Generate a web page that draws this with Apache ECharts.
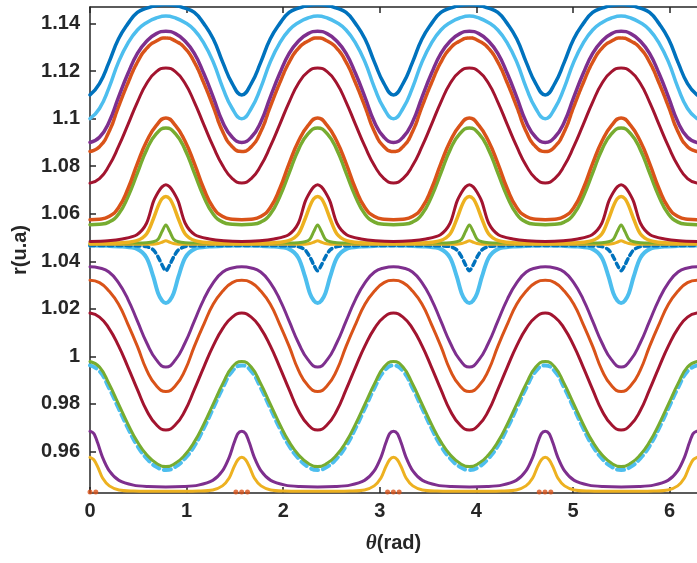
<!DOCTYPE html>
<html>
<head>
<meta charset="utf-8">
<script src="https://cdn.jsdelivr.net/npm/echarts@6/dist/echarts.min.js"></script>
<style>html,body{margin:0;padding:0;background:#fff;}#c{width:697px;height:563px;}</style>
</head>
<body>
<div id="c"></div>
<script>
// tick labels
const xTicks = [0, 1, 2, 3, 4, 5, 6];
const yTicks = [0.96, 0.98, 1.0, 1.02, 1.04, 1.06, 1.08, 1.1, 1.12, 1.14];

// theta samples (rad): uniform, step pi/32
const thA = [0, 0.0982, 0.1963, 0.2945, 0.3927, 0.4909, 0.5890, 0.6872, 0.7854, 0.8836, 0.9817, 1.0799, 1.1781, 1.2763, 1.3744, 1.4726,
 1.5708, 1.6690, 1.7671, 1.8653, 1.9635, 2.0617, 2.1598, 2.2580, 2.3562, 2.4544, 2.5525, 2.6507, 2.7489, 2.8471, 2.9452, 3.0434,
 3.1416, 3.2398, 3.3379, 3.4361, 3.5343, 3.6325, 3.7306, 3.8288, 3.9270, 4.0252, 4.1233, 4.2215, 4.3197, 4.4179, 4.5160, 4.6142,
 4.7124, 4.8106, 4.9087, 5.0069, 5.1051, 5.2033, 5.3014, 5.3996, 5.4978, 5.5960, 5.6941, 5.7923, 5.8905, 5.9887, 6.0868, 6.1850,
 6.2832];
// theta samples (rad): dense around pi/4 + n*pi/2
const thU = [0,
 0.1854, 0.3354, 0.4854, 0.5854, 0.6554, 0.7054, 0.7454, 0.7854, 0.8254, 0.8654, 0.9154, 0.9854, 1.0854, 1.2354, 1.3854,
 1.5708,
 1.7562, 1.9062, 2.0562, 2.1562, 2.2262, 2.2762, 2.3162, 2.3562, 2.3962, 2.4362, 2.4862, 2.5562, 2.6562, 2.8062, 2.9562,
 3.1416,
 3.3270, 3.4770, 3.6270, 3.7270, 3.7970, 3.8470, 3.8870, 3.9270, 3.9670, 4.0070, 4.0570, 4.1270, 4.2270, 4.3770, 4.5270,
 4.7124,
 4.8978, 5.0478, 5.1978, 5.2978, 5.3678, 5.4178, 5.4578, 5.4978, 5.5378, 5.5778, 5.6278, 5.6978, 5.7978, 5.9478, 6.0978,
 6.2832];
// theta samples (rad): dense around n*pi/2
const thL = [0, 0.04, 0.08, 0.13, 0.2, 0.3, 0.45, 0.6,
 0.7854,
 0.9708, 1.1208, 1.2708, 1.3708, 1.4408, 1.4908, 1.5308, 1.5708, 1.6108, 1.6508, 1.7008, 1.7708, 1.8708, 2.0208, 2.1708,
 2.3562,
 2.5416, 2.6916, 2.8416, 2.9416, 3.0116, 3.0616, 3.1016, 3.1416, 3.1816, 3.2216, 3.2716, 3.3416, 3.4416, 3.5916, 3.7416,
 3.9270,
 4.1124, 4.2624, 4.4124, 4.5124, 4.5824, 4.6324, 4.6724, 4.7124, 4.7524, 4.7924, 4.8424, 4.9124, 5.0124, 5.1624, 5.3124,
 5.4978,
 5.6832, 5.8332, 5.9832, 6.0832, 6.1532, 6.2032, 6.2432, 6.2832];

// ---- upper family, smooth curves (on thA) ----
const rBlueTop = [1.110,
 1.1148, 1.1237, 1.1335, 1.140, 1.1447, 1.1465, 1.1476, 1.1479, 1.1476, 1.1465, 1.1447, 1.140, 1.1335, 1.1237, 1.1148, 1.110,
 1.1148, 1.1237, 1.1335, 1.140, 1.1447, 1.1465, 1.1476, 1.1479, 1.1476, 1.1465, 1.1447, 1.140, 1.1335, 1.1237, 1.1148, 1.110,
 1.1148, 1.1237, 1.1335, 1.140, 1.1447, 1.1465, 1.1476, 1.1479, 1.1476, 1.1465, 1.1447, 1.140, 1.1335, 1.1237, 1.1148, 1.110,
 1.1148, 1.1237, 1.1335, 1.140, 1.1447, 1.1465, 1.1476, 1.1479, 1.1476, 1.1465, 1.1447, 1.140, 1.1335, 1.1237, 1.1148, 1.110];
const rCyanTop = [1.100,
 1.1043, 1.113, 1.1238, 1.1318, 1.1373, 1.1405, 1.1424, 1.1432, 1.1424, 1.1405, 1.1373, 1.1318, 1.1238, 1.113, 1.1043, 1.100,
 1.1043, 1.113, 1.1238, 1.1318, 1.1373, 1.1405, 1.1424, 1.1432, 1.1424, 1.1405, 1.1373, 1.1318, 1.1238, 1.113, 1.1043, 1.100,
 1.1043, 1.113, 1.1238, 1.1318, 1.1373, 1.1405, 1.1424, 1.1432, 1.1424, 1.1405, 1.1373, 1.1318, 1.1238, 1.113, 1.1043, 1.100,
 1.1043, 1.113, 1.1238, 1.1318, 1.1373, 1.1405, 1.1424, 1.1432, 1.1424, 1.1405, 1.1373, 1.1318, 1.1238, 1.113, 1.1043, 1.100];
const rPurpleTop = [1.090,
 1.0922, 1.0985, 1.109, 1.119, 1.1275, 1.1327, 1.1358, 1.1368, 1.1358, 1.1327, 1.1275, 1.119, 1.109, 1.0985, 1.0922, 1.090,
 1.0922, 1.0985, 1.109, 1.119, 1.1275, 1.1327, 1.1358, 1.1368, 1.1358, 1.1327, 1.1275, 1.119, 1.109, 1.0985, 1.0922, 1.090,
 1.0922, 1.0985, 1.109, 1.119, 1.1275, 1.1327, 1.1358, 1.1368, 1.1358, 1.1327, 1.1275, 1.119, 1.109, 1.0985, 1.0922, 1.090,
 1.0922, 1.0985, 1.109, 1.119, 1.1275, 1.1327, 1.1358, 1.1368, 1.1358, 1.1327, 1.1275, 1.119, 1.109, 1.0985, 1.0922, 1.090];
const rOrangeTop = [1.0862,
 1.0882, 1.0945, 1.105, 1.115, 1.1238, 1.1297, 1.1327, 1.134, 1.1327, 1.1297, 1.1238, 1.115, 1.105, 1.0945, 1.0882, 1.0862,
 1.0882, 1.0945, 1.105, 1.115, 1.1238, 1.1297, 1.1327, 1.134, 1.1327, 1.1297, 1.1238, 1.115, 1.105, 1.0945, 1.0882, 1.0862,
 1.0882, 1.0945, 1.105, 1.115, 1.1238, 1.1297, 1.1327, 1.134, 1.1327, 1.1297, 1.1238, 1.115, 1.105, 1.0945, 1.0882, 1.0862,
 1.0882, 1.0945, 1.105, 1.115, 1.1238, 1.1297, 1.1327, 1.134, 1.1327, 1.1297, 1.1238, 1.115, 1.105, 1.0945, 1.0882, 1.0862];
const rRedTop = [1.0729,
 1.0748, 1.0802, 1.0882, 1.0975, 1.107, 1.115, 1.1198, 1.1213, 1.1198, 1.115, 1.107, 1.0975, 1.0882, 1.0802, 1.0748, 1.0729,
 1.0748, 1.0802, 1.0882, 1.0975, 1.107, 1.115, 1.1198, 1.1213, 1.1198, 1.115, 1.107, 1.0975, 1.0882, 1.0802, 1.0748, 1.0729,
 1.0748, 1.0802, 1.0882, 1.0975, 1.107, 1.115, 1.1198, 1.1213, 1.1198, 1.115, 1.107, 1.0975, 1.0882, 1.0802, 1.0748, 1.0729,
 1.0748, 1.0802, 1.0882, 1.0975, 1.107, 1.115, 1.1198, 1.1213, 1.1198, 1.115, 1.107, 1.0975, 1.0882, 1.0802, 1.0748, 1.0729];
const rOrangeMid = [1.0575,
 1.0577, 1.0588, 1.0625, 1.0705, 1.0812, 1.0907, 1.0972, 1.1003, 1.0972, 1.0907, 1.0812, 1.0705, 1.0625, 1.0588, 1.0577, 1.0575,
 1.0577, 1.0588, 1.0625, 1.0705, 1.0812, 1.0907, 1.0972, 1.1003, 1.0972, 1.0907, 1.0812, 1.0705, 1.0625, 1.0588, 1.0577, 1.0575,
 1.0577, 1.0588, 1.0625, 1.0705, 1.0812, 1.0907, 1.0972, 1.1003, 1.0972, 1.0907, 1.0812, 1.0705, 1.0625, 1.0588, 1.0577, 1.0575,
 1.0577, 1.0588, 1.0625, 1.0705, 1.0812, 1.0907, 1.0972, 1.1003, 1.0972, 1.0907, 1.0812, 1.0705, 1.0625, 1.0588, 1.0577, 1.0575];
const rGreenMid = [1.0554,
 1.0556, 1.0565, 1.0598, 1.0672, 1.0772, 1.0872, 1.0937, 1.0961, 1.0937, 1.0872, 1.0772, 1.0672, 1.0598, 1.0565, 1.0556, 1.0554,
 1.0556, 1.0565, 1.0598, 1.0672, 1.0772, 1.0872, 1.0937, 1.0961, 1.0937, 1.0872, 1.0772, 1.0672, 1.0598, 1.0565, 1.0556, 1.0554,
 1.0556, 1.0565, 1.0598, 1.0672, 1.0772, 1.0872, 1.0937, 1.0961, 1.0937, 1.0872, 1.0772, 1.0672, 1.0598, 1.0565, 1.0556, 1.0554,
 1.0556, 1.0565, 1.0598, 1.0672, 1.0772, 1.0872, 1.0937, 1.0961, 1.0937, 1.0872, 1.0772, 1.0672, 1.0598, 1.0565, 1.0556, 1.0554];

// ---- near-separatrix spikes (on thU) ----
const rRedSpike = [1.0483,
 1.0486, 1.0494, 1.0512, 1.056, 1.065, 1.069, 1.0713, 1.0722, 1.0713, 1.069, 1.065, 1.056, 1.0512, 1.0494, 1.0486, 1.0483,
 1.0486, 1.0494, 1.0512, 1.056, 1.065, 1.069, 1.0713, 1.0722, 1.0713, 1.069, 1.065, 1.056, 1.0512, 1.0494, 1.0486, 1.0483,
 1.0486, 1.0494, 1.0512, 1.056, 1.065, 1.069, 1.0713, 1.0722, 1.0713, 1.069, 1.065, 1.056, 1.0512, 1.0494, 1.0486, 1.0483,
 1.0486, 1.0494, 1.0512, 1.056, 1.065, 1.069, 1.0713, 1.0722, 1.0713, 1.069, 1.065, 1.056, 1.0512, 1.0494, 1.0486, 1.0483];
const rYellowSpike = [1.0475,
 1.0476, 1.0478, 1.0487, 1.0515, 1.0578, 1.0632, 1.0663, 1.0673, 1.0663, 1.0632, 1.0578, 1.0515, 1.0487, 1.0478, 1.0476, 1.0475,
 1.0476, 1.0478, 1.0487, 1.0515, 1.0578, 1.0632, 1.0663, 1.0673, 1.0663, 1.0632, 1.0578, 1.0515, 1.0487, 1.0478, 1.0476, 1.0475,
 1.0476, 1.0478, 1.0487, 1.0515, 1.0578, 1.0632, 1.0663, 1.0673, 1.0663, 1.0632, 1.0578, 1.0515, 1.0487, 1.0478, 1.0476, 1.0475,
 1.0476, 1.0478, 1.0487, 1.0515, 1.0578, 1.0632, 1.0663, 1.0673, 1.0663, 1.0632, 1.0578, 1.0515, 1.0487, 1.0478, 1.0476, 1.0475];
const rGreenSpike = [1.0477,
 1.0477, 1.0477, 1.0477, 1.0478, 1.0482, 1.0493, 1.0525, 1.0553, 1.0525, 1.0493, 1.0482, 1.0478, 1.0477, 1.0477, 1.0477, 1.0477,
 1.0477, 1.0477, 1.0477, 1.0478, 1.0482, 1.0493, 1.0525, 1.0553, 1.0525, 1.0493, 1.0482, 1.0478, 1.0477, 1.0477, 1.0477, 1.0477,
 1.0477, 1.0477, 1.0477, 1.0478, 1.0482, 1.0493, 1.0525, 1.0553, 1.0525, 1.0493, 1.0482, 1.0478, 1.0477, 1.0477, 1.0477, 1.0477,
 1.0477, 1.0477, 1.0477, 1.0478, 1.0482, 1.0493, 1.0525, 1.0553, 1.0525, 1.0493, 1.0482, 1.0478, 1.0477, 1.0477, 1.0477, 1.0477];
const rYellowSep = [1.0472,
 1.0472, 1.0472, 1.0472, 1.0472, 1.0472, 1.0475, 1.048, 1.0486, 1.048, 1.0475, 1.0472, 1.0472, 1.0472, 1.0472, 1.0472, 1.0472,
 1.0472, 1.0472, 1.0472, 1.0472, 1.0472, 1.0475, 1.048, 1.0486, 1.048, 1.0475, 1.0472, 1.0472, 1.0472, 1.0472, 1.0472, 1.0472,
 1.0472, 1.0472, 1.0472, 1.0472, 1.0472, 1.0475, 1.048, 1.0486, 1.048, 1.0475, 1.0472, 1.0472, 1.0472, 1.0472, 1.0472, 1.0472,
 1.0472, 1.0472, 1.0472, 1.0472, 1.0472, 1.0475, 1.048, 1.0486, 1.048, 1.0475, 1.0472, 1.0472, 1.0472, 1.0472, 1.0472, 1.0472];
const rCyanDip = [1.0466,
 1.0465, 1.0462, 1.0452, 1.0415, 1.0335, 1.0265, 1.0235, 1.0224, 1.0235, 1.0265, 1.0335, 1.0415, 1.0452, 1.0462, 1.0465, 1.0466,
 1.0465, 1.0462, 1.0452, 1.0415, 1.0335, 1.0265, 1.0235, 1.0224, 1.0235, 1.0265, 1.0335, 1.0415, 1.0452, 1.0462, 1.0465, 1.0466,
 1.0465, 1.0462, 1.0452, 1.0415, 1.0335, 1.0265, 1.0235, 1.0224, 1.0235, 1.0265, 1.0335, 1.0415, 1.0452, 1.0462, 1.0465, 1.0466,
 1.0465, 1.0462, 1.0452, 1.0415, 1.0335, 1.0265, 1.0235, 1.0224, 1.0235, 1.0265, 1.0335, 1.0415, 1.0452, 1.0462, 1.0465, 1.0466];
const rBlueDip = [1.0466,
 1.0466, 1.0466, 1.0465, 1.0462, 1.0448, 1.0418, 1.0385, 1.036, 1.0385, 1.0418, 1.0448, 1.0462, 1.0465, 1.0466, 1.0466, 1.0466,
 1.0466, 1.0466, 1.0465, 1.0462, 1.0448, 1.0418, 1.0385, 1.036, 1.0385, 1.0418, 1.0448, 1.0462, 1.0465, 1.0466, 1.0466, 1.0466,
 1.0466, 1.0466, 1.0465, 1.0462, 1.0448, 1.0418, 1.0385, 1.036, 1.0385, 1.0418, 1.0448, 1.0462, 1.0465, 1.0466, 1.0466, 1.0466,
 1.0466, 1.0466, 1.0465, 1.0462, 1.0448, 1.0418, 1.0385, 1.036, 1.0385, 1.0418, 1.0448, 1.0462, 1.0465, 1.0466, 1.0466, 1.0466];

// ---- lower family, smooth curves (on thA) ----
const rPurpleLow = [1.0377,
 1.0372, 1.0355, 1.031, 1.024, 1.0148, 1.0055, 0.9985, 0.9955, 0.9985, 1.0055, 1.0148, 1.024, 1.031, 1.0355, 1.0372, 1.0377,
 1.0372, 1.0355, 1.031, 1.024, 1.0148, 1.0055, 0.9985, 0.9955, 0.9985, 1.0055, 1.0148, 1.024, 1.031, 1.0355, 1.0372, 1.0377,
 1.0372, 1.0355, 1.031, 1.024, 1.0148, 1.0055, 0.9985, 0.9955, 0.9985, 1.0055, 1.0148, 1.024, 1.031, 1.0355, 1.0372, 1.0377,
 1.0372, 1.0355, 1.031, 1.024, 1.0148, 1.0055, 0.9985, 0.9955, 0.9985, 1.0055, 1.0148, 1.024, 1.031, 1.0355, 1.0372, 1.0377];
const rOrangeLow = [1.032,
 1.031, 1.0275, 1.022, 1.0135, 1.0042, 0.994, 0.9876, 0.9852, 0.9876, 0.994, 1.0042, 1.0135, 1.022, 1.0275, 1.031, 1.032,
 1.031, 1.0275, 1.022, 1.0135, 1.0042, 0.994, 0.9876, 0.9852, 0.9876, 0.994, 1.0042, 1.0135, 1.022, 1.0275, 1.031, 1.032,
 1.031, 1.0275, 1.022, 1.0135, 1.0042, 0.994, 0.9876, 0.9852, 0.9876, 0.994, 1.0042, 1.0135, 1.022, 1.0275, 1.031, 1.032,
 1.031, 1.0275, 1.022, 1.0135, 1.0042, 0.994, 0.9876, 0.9852, 0.9876, 0.994, 1.0042, 1.0135, 1.022, 1.0275, 1.031, 1.032];
const rRedLow = [1.0182,
 1.0165, 1.0118, 1.0045, 0.9955, 0.986, 0.977, 0.9712, 0.969, 0.9712, 0.977, 0.986, 0.9955, 1.0045, 1.0118, 1.0165, 1.0182,
 1.0165, 1.0118, 1.0045, 0.9955, 0.986, 0.977, 0.9712, 0.969, 0.9712, 0.977, 0.986, 0.9955, 1.0045, 1.0118, 1.0165, 1.0182,
 1.0165, 1.0118, 1.0045, 0.9955, 0.986, 0.977, 0.9712, 0.969, 0.9712, 0.977, 0.986, 0.9955, 1.0045, 1.0118, 1.0165, 1.0182,
 1.0165, 1.0118, 1.0045, 0.9955, 0.986, 0.977, 0.9712, 0.969, 0.9712, 0.977, 0.986, 0.9955, 1.0045, 1.0118, 1.0165, 1.0182];
const rGreenLow = [0.9978,
 0.9955, 0.9885, 0.980, 0.9715, 0.964, 0.9585, 0.955, 0.9536, 0.955, 0.9585, 0.964, 0.9715, 0.980, 0.9885, 0.9955, 0.9978,
 0.9955, 0.9885, 0.980, 0.9715, 0.964, 0.9585, 0.955, 0.9536, 0.955, 0.9585, 0.964, 0.9715, 0.980, 0.9885, 0.9955, 0.9978,
 0.9955, 0.9885, 0.980, 0.9715, 0.964, 0.9585, 0.955, 0.9536, 0.955, 0.9585, 0.964, 0.9715, 0.980, 0.9885, 0.9955, 0.9978,
 0.9955, 0.9885, 0.980, 0.9715, 0.964, 0.9585, 0.955, 0.9536, 0.955, 0.9585, 0.964, 0.9715, 0.980, 0.9885, 0.9955, 0.9978];
const rCyanLow = [0.9962,
 0.9938, 0.9868, 0.9783, 0.9698, 0.9623, 0.957, 0.9535, 0.9522, 0.9535, 0.957, 0.9623, 0.9698, 0.9783, 0.9868, 0.9938, 0.9962,
 0.9938, 0.9868, 0.9783, 0.9698, 0.9623, 0.957, 0.9535, 0.9522, 0.9535, 0.957, 0.9623, 0.9698, 0.9783, 0.9868, 0.9938, 0.9962,
 0.9938, 0.9868, 0.9783, 0.9698, 0.9623, 0.957, 0.9535, 0.9522, 0.9535, 0.957, 0.9623, 0.9698, 0.9783, 0.9868, 0.9938, 0.9962,
 0.9938, 0.9868, 0.9783, 0.9698, 0.9623, 0.957, 0.9535, 0.9522, 0.9535, 0.957, 0.9623, 0.9698, 0.9783, 0.9868, 0.9938, 0.9962];

// ---- bottom family (on thL) ----
const rPurpleBot = [0.9685, 0.9675, 0.9635, 0.9575, 0.9518, 0.9478, 0.9458, 0.9452, 0.945,
 0.9452, 0.9458, 0.9478, 0.9518, 0.9575, 0.9635, 0.9675, 0.9685, 0.9675, 0.9635, 0.9575, 0.9518, 0.9478, 0.9458, 0.9452, 0.945,
 0.9452, 0.9458, 0.9478, 0.9518, 0.9575, 0.9635, 0.9675, 0.9685, 0.9675, 0.9635, 0.9575, 0.9518, 0.9478, 0.9458, 0.9452, 0.945,
 0.9452, 0.9458, 0.9478, 0.9518, 0.9575, 0.9635, 0.9675, 0.9685, 0.9675, 0.9635, 0.9575, 0.9518, 0.9478, 0.9458, 0.9452, 0.945,
 0.9452, 0.9458, 0.9478, 0.9518, 0.9575, 0.9635, 0.9675, 0.9685];
const rYellowBot = [0.9575, 0.9565, 0.9535, 0.9488, 0.9455, 0.9438, 0.9433, 0.9432, 0.9432,
 0.9432, 0.9433, 0.9438, 0.9455, 0.9488, 0.9535, 0.9565, 0.9575, 0.9565, 0.9535, 0.9488, 0.9455, 0.9438, 0.9433, 0.9432, 0.9432,
 0.9432, 0.9433, 0.9438, 0.9455, 0.9488, 0.9535, 0.9565, 0.9575, 0.9565, 0.9535, 0.9488, 0.9455, 0.9438, 0.9433, 0.9432, 0.9432,
 0.9432, 0.9433, 0.9438, 0.9455, 0.9488, 0.9535, 0.9565, 0.9575, 0.9565, 0.9535, 0.9488, 0.9455, 0.9438, 0.9433, 0.9432, 0.9432,
 0.9432, 0.9433, 0.9438, 0.9455, 0.9488, 0.9535, 0.9565, 0.9575];
const thOrangeDots = [0, 0.06, 1.51, 1.57, 1.63, 3.08, 3.14, 3.20, 4.65, 4.71, 4.77];
const rOrangeDots = [0.9429, 0.9429, 0.9429, 0.9429, 0.9429, 0.9429, 0.9429, 0.9429, 0.9429, 0.9429, 0.9429];

const C = {blue:'#0072BD', orange:'#D95319', yellow:'#EDB120', purple:'#7E2F8E', green:'#77AC30', cyan:'#4DBEEE', red:'#A2142F'};

function pts(th, r) { return th.map((t, i) => [t, r[i]]); }
function line(th, r, color, width, dash, sm) {
  return { type: 'line', data: pts(th, r), showSymbol: false, smooth: sm === undefined ? 0.5 : sm,
    clip: true, silent: true, animation: false,
    lineStyle: { color: color, width: width, type: dash || 'solid', cap: 'round', join: 'round' } };
}

const series = [
  line(thL, rYellowBot, C.yellow, 3, null, 0.3),
  line(thL, rPurpleBot, C.purple, 3, null, 0.3),
  line(thA, rCyanLow, C.cyan, 4, [7, 5]),
  line(thA, rGreenLow, C.green, 3),
  line(thA, rRedLow, C.red, 3),
  line(thA, rOrangeLow, C.orange, 3),
  line(thA, rPurpleLow, C.purple, 3),
  line(thU, rCyanDip, C.cyan, 4, null, 0.3),
  line(thU, rBlueDip, C.blue, 3.5, [5, 4], 0.3),
  line(thU, rYellowSep, C.yellow, 3, null, 0.3),
  line(thU, rGreenSpike, C.green, 3, null, 0.3),
  line(thU, rYellowSpike, C.yellow, 3.5, null, 0.3),
  line(thU, rRedSpike, C.red, 3, null, 0.3),
  line(thA, rGreenMid, C.green, 3.5),
  line(thA, rOrangeMid, C.orange, 3.5),
  line(thA, rRedTop, C.red, 3),
  line(thA, rOrangeTop, C.orange, 3.5, [3, 1]),
  line(thA, rPurpleTop, C.purple, 3.5),
  line(thA, rCyanTop, C.cyan, 3.5),
  line(thA, rBlueTop, C.blue, 3.5),
  { type: 'scatter', data: pts(thOrangeDots, rOrangeDots), symbolSize: 5, silent: true, animation: false,
    itemStyle: { color: C.orange } }
];

const axisCol = '#262626';
const chart = echarts.init(document.getElementById('c'), null, { renderer: 'canvas' });
chart.setOption({
  backgroundColor: '#ffffff',
  animation: false,
  grid: { left: 90, top: 7, right: -7.5, bottom: 70, containLabel: false },
  xAxis: [{
    type: 'value', min: 0, max: 6.2832, position: 'bottom',
    name: '{i|θ}(rad)', nameLocation: 'middle', nameGap: 40,
    nameTextStyle: { color: axisCol, fontFamily: 'Liberation Sans', fontSize: 20, fontWeight: 'bold',
      rich: { i: { fontStyle: 'italic', fontFamily: 'Liberation Serif', fontSize: 21, fontWeight: 'bold', color: axisCol } } },
    axisLine: { show: true, lineStyle: { color: axisCol, width: 1.5 } },
    axisTick: { show: true, inside: true, length: 6, customValues: xTicks, lineStyle: { color: axisCol, width: 1.5 } },
    axisLabel: { show: true, customValues: xTicks, margin: 8, color: axisCol, fontFamily: 'Liberation Sans',
      fontSize: 20, fontWeight: 'bold', formatter: v => String(v) },
    splitLine: { show: false }
  }, {
    type: 'value', min: 0, max: 6.2832, position: 'top',
    axisLine: { show: true, onZero: false, lineStyle: { color: axisCol, width: 1.5 } },
    axisTick: { show: true, inside: true, length: 6, customValues: xTicks, lineStyle: { color: axisCol, width: 1.5 } },
    axisLabel: { show: false }, splitLine: { show: false }
  }],
  yAxis: [{
    type: 'value', min: 0.9425, max: 1.147,
    name: 'r(u.a)', nameLocation: 'middle', nameGap: 60, nameRotate: 90,
    nameTextStyle: { color: axisCol, fontFamily: 'Liberation Sans', fontSize: 20, fontWeight: 'bold' },
    axisLine: { show: true, onZero: false, lineStyle: { color: axisCol, width: 1.5 } },
    axisTick: { show: true, inside: true, length: 6, customValues: yTicks, lineStyle: { color: axisCol, width: 1.5 } },
    axisLabel: { show: true, customValues: yTicks, margin: 10, color: axisCol, fontFamily: 'Liberation Sans',
      fontSize: 20, fontWeight: 'bold', formatter: v => String(parseFloat(Number(v).toFixed(2))) },
    splitLine: { show: false }
  }],
  series: series
});
</script>
</body>
</html>
